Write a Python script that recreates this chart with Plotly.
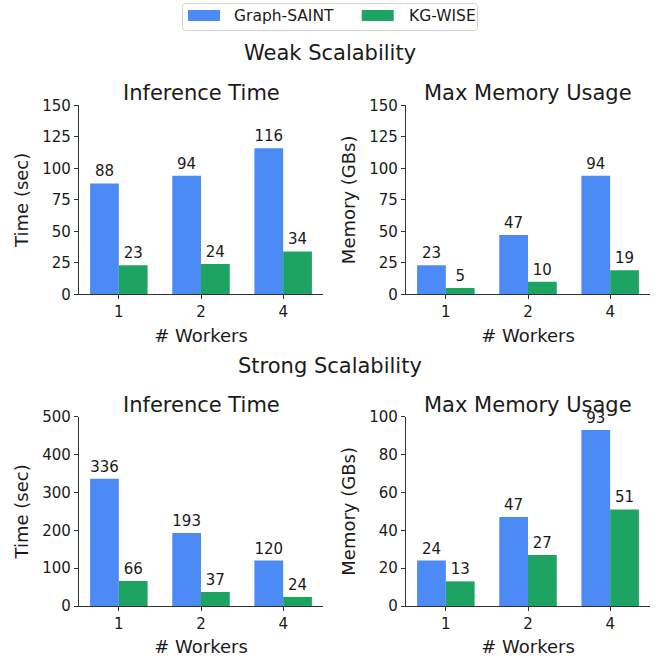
import plotly.graph_objects as go

# ---------------- data ----------------
workers = ["1", "2", "4"]
series_names = ["Graph-SAINT", "KG-WISE"]
series_colors = ["#4C8BF5", "#1DA462"]

weak_time_saint = [88, 94, 116]
weak_time_wise = [23, 24, 34]
weak_mem_saint = [23, 47, 94]
weak_mem_wise = [5, 10, 19]
strong_time_saint = [336, 193, 120]
strong_time_wise = [66, 37, 24]
strong_mem_saint = [24, 47, 93]
strong_mem_wise = [13, 27, 51]

panel_titles = ["Inference Time", "Max Memory Usage", "Inference Time", "Max Memory Usage"]
y_titles = ["Time (sec)", "Memory (GBs)", "Time (sec)", "Memory (GBs)"]
y_ranges = [[0, 150], [0, 150], [0, 500], [0, 100]]
y_dticks = [25, 25, 100, 20]
x_title = "# Workers"
section_titles = ["Weak Scalability", "Strong Scalability"]

panels = [
    (weak_time_saint, weak_time_wise),
    (weak_mem_saint, weak_mem_wise),
    (strong_time_saint, strong_time_wise),
    (strong_mem_saint, strong_mem_wise),
]

# ---------------- layout geometry (pixels) ----------------
W, H = 659, 658
FONT = "DejaVu Sans"
TXT = "#1a1a1a"
AX = "#333333"

def px(x):
    return x / W

def py(y):
    return 1 - y / H

x_domains = [[px(79), px(323)], [px(406), px(650)]]
y_domains = [[py(294.3), py(105.3)], [py(606), py(416.7)]]

fig = go.Figure()

for i, (s_vals, w_vals) in enumerate(panels):
    n = i + 1
    xa = "x" if n == 1 else f"x{n}"
    ya = "y" if n == 1 else f"y{n}"
    for name, vals, col, grp in zip(series_names, [s_vals, w_vals], series_colors, ["a", "b"]):
        fig.add_trace(go.Bar(
            x=workers, y=vals, name=name, marker=dict(color=col, line=dict(width=0)),
            xaxis=xa, yaxis=ya, offsetgroup=grp, showlegend=False,
            text=[str(v) for v in vals], textposition="outside",
            textfont=dict(family=FONT, size=15, color=TXT),
            constraintext="none", cliponaxis=False,
        ))

layout = dict(
    width=W, height=H, margin=dict(l=0, r=0, t=0, b=0, pad=0, autoexpand=False),
    paper_bgcolor="white", plot_bgcolor="white",
    barmode="group", bargap=0.3, bargroupgap=0,
    font=dict(family=FONT, color=TXT),
    showlegend=False,
)

annotations = []
for i in range(4):
    n = i + 1
    row, col = divmod(i, 2)
    xk = "xaxis" if n == 1 else f"xaxis{n}"
    yk = "yaxis" if n == 1 else f"yaxis{n}"
    layout[xk] = dict(
        domain=x_domains[col], anchor="y" if n == 1 else f"y{n}",
        type="category", range=[-0.485, 2.485], automargin=False,
        showline=True, linecolor=AX, linewidth=1.25,
        ticks="outside", ticklen=4, tickwidth=1.25, tickcolor=AX,
        tickfont=dict(family=FONT, size=15, color=TXT),
        showgrid=False, zeroline=False,
        title=dict(text=x_title, font=dict(family=FONT, size=18, color=TXT), standoff=8),
    )
    layout[yk] = dict(
        domain=y_domains[row], anchor="x" if n == 1 else f"x{n}",
        range=y_ranges[i], dtick=y_dticks[i], tick0=0, automargin=False,
        showline=True, linecolor=AX, linewidth=1.25,
        ticks="outside", ticklen=4, tickwidth=1.25, tickcolor=AX,
        tickfont=dict(family=FONT, size=15, color=TXT),
        showgrid=False, zeroline=False,
        title=dict(text=y_titles[i], font=dict(family=FONT, size=18, color=TXT), standoff=8),
    )
    # panel title
    annotations.append(dict(
        text=panel_titles[i], xref="paper", yref="paper",
        x=(x_domains[col][0] + x_domains[col][1]) / 2,
        y=y_domains[row][1], yshift=-2, xanchor="center", yanchor="bottom",
        showarrow=False, font=dict(family=FONT, size=21, color=TXT),
    ))

for t, yy in zip(section_titles, [53, 366]):
    annotations.append(dict(
        text=t, xref="paper", yref="paper", x=px(330), y=py(yy),
        xanchor="center", yanchor="middle", showarrow=False,
        font=dict(family=FONT, size=21, color=TXT),
    ))

# manual legend (matplotlib-like wide patches)
shapes = []
x0, x1, y0, y1, r = 182.5, 477.5, 3.5, 30.5, 3
path = (f"M {px(x0 + r)},{py(y0)} L {px(x1 - r)},{py(y0)} "
        f"Q {px(x1)},{py(y0)} {px(x1)},{py(y0 + r)} L {px(x1)},{py(y1 - r)} "
        f"Q {px(x1)},{py(y1)} {px(x1 - r)},{py(y1)} L {px(x0 + r)},{py(y1)} "
        f"Q {px(x0)},{py(y1)} {px(x0)},{py(y1 - r)} L {px(x0)},{py(y0 + r)} "
        f"Q {px(x0)},{py(y0)} {px(x0 + r)},{py(y0)} Z")
shapes.append(dict(type="path", xref="paper", yref="paper", path=path,
                   line=dict(color="#d3d3d3", width=1), fillcolor="white"))
patch_x = [188, 361.7]
text_x = [232, 406.5]
for name, col, pxl, tx in zip(series_names, series_colors, patch_x, text_x):
    shapes.append(dict(type="rect", xref="paper", yref="paper",
                       x0=px(pxl), x1=px(pxl + 32), y0=py(21), y1=py(10),
                       fillcolor=col, line=dict(width=0)))
    annotations.append(dict(text=name, xref="paper", yref="paper", x=px(tx), y=py(16),
                            xanchor="left", yanchor="middle", showarrow=False,
                            font=dict(family=FONT, size=15.5, color=TXT)))

layout["annotations"] = annotations
layout["shapes"] = shapes
fig.update_layout(**layout)

fig.write_html(
    "out.html",
    config={"displayModeBar": False},
    post_script="document.body.style.margin='0';document.body.style.overflow='hidden';",
)
